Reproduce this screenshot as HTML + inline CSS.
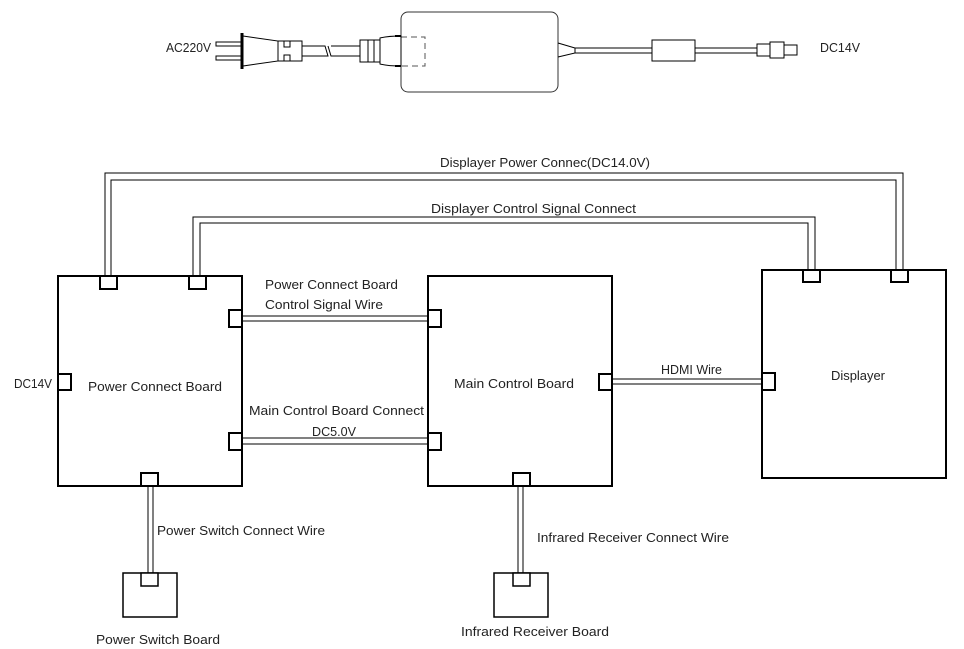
<!DOCTYPE html>
<html><head><meta charset="utf-8"><style>
html,body{margin:0;padding:0;background:#fff;}
svg{display:block}
text{font-family:"Liberation Sans",sans-serif;font-size:13px;fill:#222;}
</style></head><body>
<svg width="964" height="649" viewBox="0 0 964 649" xmlns="http://www.w3.org/2000/svg">
<g fill="none" stroke="#000" stroke-width="1">
<rect x="401" y="12" width="157" height="80" rx="7" stroke="#333"/>
<rect x="401" y="37" width="24" height="29" stroke-dasharray="6,4" stroke="#555"/>
<rect x="216" y="42" width="25" height="4"/>
<rect x="216" y="56" width="25" height="4"/>
<line x1="242" y1="33" x2="242" y2="69" stroke-width="3"/>
<path d="M243,36 L278,41 L278,61 L243,66 Z"/>
<path d="M278,41 H302 V61 H278 Z M284,41 V47 H290 V41 M284,61 V55 H290 V61"/>
<path d="M302,46 H325 L328,56 H302 M328,46 L331,56 H360 M331,46 H360"/>
<rect x="360" y="40" width="8" height="22"/>
<rect x="368" y="40" width="6" height="22"/>
<rect x="374" y="40" width="6" height="22"/>
<path d="M380,38 Q388,36 401,36 V66 Q388,66 380,64 Z"/>
<line x1="395" y1="36" x2="401" y2="36" stroke-width="2"/>
<line x1="395" y1="66" x2="401" y2="66" stroke-width="2"/>
<path d="M558,43 L575,48 V53 L558,57"/>
<path d="M575,48 H652 M575,53 H652"/>
<rect x="652" y="40" width="43" height="21"/>
<path d="M695,48 H757 M695,53 H757"/>
<rect x="757" y="44" width="13" height="12"/>
<rect x="770" y="42" width="14" height="16"/>
<rect x="784" y="45" width="13" height="10"/>
</g>
<text x="166" y="52" textLength="45" lengthAdjust="spacingAndGlyphs">AC220V</text>
<text x="820" y="52" textLength="40" lengthAdjust="spacingAndGlyphs">DC14V</text>

<g fill="none" stroke="#000" stroke-width="1">
<path d="M105,276 V173 H903 V270"/>
<path d="M111,276 V180 H896 V270"/>
<path d="M193,276 V217 H815 V270"/>
<path d="M200,276 V223 H808 V270"/>
<path d="M242,316 H428 M242,321 H428"/>
<path d="M242,438 H428 M242,444 H428"/>
<path d="M612,379 H761 M612,384 H761"/>
<path d="M148,486 V573 M153,486 V573"/>
<path d="M518,486 V573 M523,486 V573"/>
</g>
<g fill="#fff" stroke="#000" stroke-width="2">
<rect x="58" y="276" width="184" height="210"/>
<rect x="428" y="276" width="184" height="210"/>
<rect x="762" y="270" width="184" height="208"/>
<rect x="123" y="573" width="54" height="44" stroke-width="1.5"/>
<rect x="494" y="573" width="54" height="44" stroke-width="1.5"/>
<rect x="100" y="276" width="17" height="13"/>
<rect x="189" y="276" width="17" height="13"/>
<rect x="229" y="310" width="13" height="17"/>
<rect x="229" y="433" width="13" height="17"/>
<rect x="58" y="374" width="13" height="16"/>
<rect x="141" y="473" width="17" height="13"/>
<rect x="428" y="310" width="13" height="17"/>
<rect x="428" y="433" width="13" height="17"/>
<rect x="599" y="374" width="13" height="16"/>
<rect x="513" y="473" width="17" height="13"/>
<rect x="803" y="270" width="17" height="12"/>
<rect x="891" y="270" width="17" height="12"/>
<rect x="762" y="373" width="13" height="17"/>
<rect x="141" y="573" width="17" height="13" stroke-width="1.5"/>
<rect x="513" y="573" width="17" height="13" stroke-width="1.5"/>
</g>
<text x="440" y="167" textLength="210" lengthAdjust="spacingAndGlyphs">Displayer Power Connec(DC14.0V)</text>
<text x="431" y="213" textLength="205" lengthAdjust="spacingAndGlyphs">Displayer Control Signal Connect</text>
<text x="265" y="289" textLength="133" lengthAdjust="spacingAndGlyphs">Power Connect Board</text>
<text x="265" y="309" textLength="118" lengthAdjust="spacingAndGlyphs">Control Signal Wire</text>
<text x="249" y="415" textLength="175" lengthAdjust="spacingAndGlyphs">Main Control Board Connect</text>
<text x="312" y="436" textLength="44" lengthAdjust="spacingAndGlyphs">DC5.0V</text>
<text x="14" y="388" textLength="38" lengthAdjust="spacingAndGlyphs">DC14V</text>
<text x="88" y="391" textLength="134" lengthAdjust="spacingAndGlyphs">Power Connect Board</text>
<text x="454" y="388" textLength="120" lengthAdjust="spacingAndGlyphs">Main Control Board</text>
<text x="661" y="374" textLength="61" lengthAdjust="spacingAndGlyphs">HDMI Wire</text>
<text x="831" y="380" textLength="54" lengthAdjust="spacingAndGlyphs">Displayer</text>
<text x="157" y="535" textLength="168" lengthAdjust="spacingAndGlyphs">Power Switch Connect Wire</text>
<text x="96" y="644" textLength="124" lengthAdjust="spacingAndGlyphs">Power Switch Board</text>
<text x="537" y="542" textLength="192" lengthAdjust="spacingAndGlyphs">Infrared Receiver Connect Wire</text>
<text x="461" y="636" textLength="148" lengthAdjust="spacingAndGlyphs">Infrared Receiver Board</text>
</svg>
</body></html>
